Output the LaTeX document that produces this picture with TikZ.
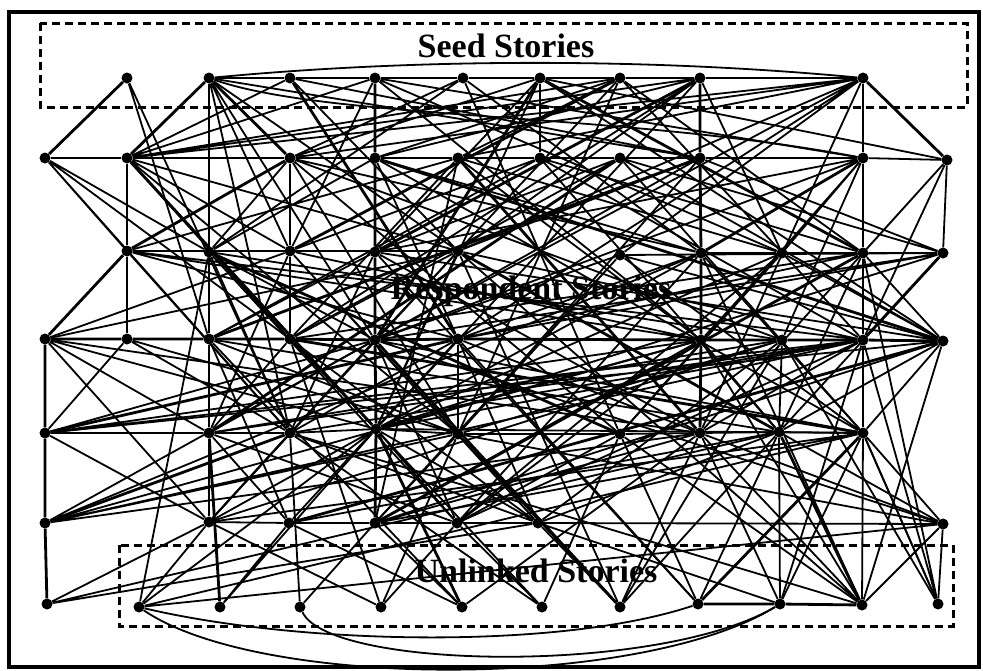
\documentclass[tikz,border=0pt]{standalone}
\usepackage{fontspec}
\setmainfont{Liberation Serif}
\usepackage{tikz}

\tikzset{
  story/.style={circle,fill=black,inner sep=0pt,minimum size=11pt},
  link/.style={line width=1.8pt},
  biglink/.style={line width=2.8pt},
  storybox/.style={dash pattern=on 8pt off 5pt,line width=3pt},
  boxlabel/.style={font=\fontsize{34}{36}\selectfont\bfseries,inner sep=0pt}
}

\begin{document}
\begin{tikzpicture}[x=1pt,y=1pt,yscale=-1,xscale=1]
\useasboundingbox (0,0) rectangle (983,670);
\draw [line width=3.2pt] (9,12) rectangle (979,667) ;
%Boxes
\draw [storybox] (40,23) rectangle (967,107) ;
\draw [storybox] (119,545) rectangle (953,626) ;
%Text
\node [boxlabel] (seedtxt) at (506,46) {Seed Stories};
\node [boxlabel] (resptxt) at (531,291) {Respondent Stories};
\node [boxlabel] (unltxt) at (536,571) {Unlinked Stories};
%Seed stories
\node [story] (a1) at (127,78) {};
\node [story] (a2) at (209,78) {};
\node [story] (a3) at (290,78) {};
\node [story] (a4) at (375,78) {};
\node [story] (a5) at (463,78) {};
\node [story] (a6) at (540,78) {};
\node [story] (a7) at (620,78) {};
\node [story] (a8) at (700,78) {};
\node [story] (a10) at (863,78) {};
%Respondent stories
\node [story] (b0) at (45,158) {};
\node [story] (b1) at (127,158) {};
\node [story] (b3) at (290,158) {};
\node [story] (b4) at (375,158) {};
\node [story] (b5) at (458,158) {};
\node [story] (b6) at (540,158) {};
\node [story] (b7) at (620,158) {};
\node [story] (b8) at (700,158) {};
\node [story] (b10) at (863,158) {};
\node [story] (b11) at (947,160) {};
\node [story] (c1) at (127,251) {};
\node [story] (c2) at (209,252) {};
\node [story] (c3) at (290,251) {};
\node [story] (c4) at (375,252) {};
\node [story] (c5) at (458,251) {};
\node [story] (c7) at (620,255) {};
\node [story] (c8) at (701,253) {};
\node [story] (c9) at (782,253) {};
\node [story] (c10) at (863,253) {};
\node [story] (c11) at (943,253) {};
\node [story] (d0) at (45,339) {};
\node [story] (d1) at (127,339) {};
\node [story] (d2) at (209,339) {};
\node [story] (d3) at (290,339) {};
\node [story] (d4) at (375,340) {};
\node [story] (d5) at (458,339) {};
\node [story] (d8) at (701,340) {};
\node [story] (d9) at (782,340) {};
\node [story] (d10) at (863,340) {};
\node [story] (d11) at (943,341) {};
\node [story] (e0) at (45,433) {};
\node [story] (e2) at (209,433) {};
\node [story] (e3) at (290,433) {};
\node [story] (e4) at (376,429) {};
\node [story] (e5) at (458,434) {};
\node [story] (e7) at (620,434) {};
\node [story] (e8) at (700,433) {};
\node [story] (e9) at (779,432) {};
\node [story] (e10) at (863,433) {};
\node [story] (f0) at (45,523) {};
\node [story] (f2) at (209,522) {};
\node [story] (f3) at (289,523) {};
\node [story] (f4) at (375,523) {};
\node [story] (f5) at (457,523) {};
\node [story] (f6) at (538,523) {};
\node [story] (f11) at (943,524) {};
%Unlinked stories
\node [story] (g0) at (47,604) {};
\node [story] (g1) at (139,607) {};
\node [story] (g2) at (220,607) {};
\node [story] (g3) at (300,607) {};
\node [story] (g4) at (381,607) {};
\node [story] (g5) at (462,607) {};
\node [story] (g6) at (542,607) {};
\node [story] (g7) at (620,607) {};
\node [story] (g8) at (698,604) {};
\node [story] (g9) at (780,604) {};
\node [story] (g10) at (862,605) {};
\node [story] (g11) at (938,604) {};
%Rows and columns
\draw [link] (a2) -- (a3) -- (a4) -- (a5) -- (a6) -- (a7) -- (a8) -- (a10) ;
\draw [link] (b0) -- (b1) -- (b3) -- (b4) -- (b5) -- (b6) -- (b7) -- (b8) -- (b10) ;
\draw [link] (c8) -- (c9) -- (c10) -- (c11) ;
\draw [biglink] (d0) -- (d1) -- (d2) -- (d3) -- (d4) -- (d5) -- (d8) -- (d9) -- (d10) -- (d11) ;
\draw [link] (e0) -- (e2) -- (e3) -- (e4) -- (e5) -- (e7) -- (e8) -- (e9) -- (e10) ;
\draw [link] (f2) -- (f3) -- (f4) -- (f5) -- (f6) -- (f11) ;
\draw [biglink] (g8) -- (g9) -- (g10) ;
\draw [link] (a2) -- (c2) -- (d2) -- (e2) -- (f2) ;
\draw [link] (b1) -- (c1) -- (d1) ;
\draw [biglink] (d0) -- (e0) -- (f0) -- (g0) ;
\draw [link] (b3) -- (c3) -- (d3) ;
\draw [biglink] (a4) -- (b4) -- (c4) -- (d4) -- (e4) -- (f4) ;
\draw [link] (d5) -- (e5) ;
\draw [link] (a6) -- (b6) ;
\draw [biglink] (a8) -- (b8) -- (c8) -- (d8) -- (e8) ;
\draw [link] (d9) -- (e9) -- (g9) ;
\draw [biglink] (a10) -- (b10) -- (c10) -- (d10) -- (e10) ;
\draw [link] (f11) -- (g11) ;
%Curved links
\draw [link] (a2) .. controls (420,58) and (650,58) .. (a10) ;
\draw [link] (a2) .. controls (330,120) and (620,112) .. (b10) ;
\draw [link] (g1) .. controls (300,645) and (560,650) .. (g8) ;
\draw [link] (g1) .. controls (260,690) and (640,690) .. (g9) ;
\draw [link] (g3) .. controls (330,670) and (660,675) .. (g9) ;
%Strong links
\draw [biglink] (a1) -- (b0) (a2) -- (b1) (a2) -- (b3) (b3) -- (c1) (c1) -- (d0)
  (a10) -- (b11) (c11) -- (d10) (e10) -- (g8) (b1) -- (e4) (f0) -- (e3)
  (b10) -- (c8) (a6) -- (d4) (a7) -- (c3) (b4) -- (d11) (c2) -- (e7)
  (e4) -- (g5) (d4) -- (g7) (a8) -- (c4) (b5) -- (e8) (e0) -- (d5)
  (c5) -- (e9) (d3) -- (e10) (b7) -- (e2) (a3) -- (d5) (c10) -- (f4)
  (e9) -- (g10) (d11) -- (f3) (b8) -- (d2) (e2) -- (g2) (a6) -- (c10) ;
%Links
\draw [link] (a1) -- (d2) (a1) -- (e3)
  (a2) -- (c3) (a2) -- (d4) (a2) -- (e3) (a2) -- (b8) (a2) -- (c5)
  (a3) -- (b1) (a3) -- (c5) (a3) -- (b8)
  (a4) -- (b1) (a4) -- (c3) (a4) -- (d8) (a4) -- (b10) (a4) -- (c9)
  (a5) -- (b3) (a5) -- (c2) (a5) -- (c8) (a5) -- (e7)
  (a6) -- (b3) (a6) -- (c4) (a6) -- (d11) (a6) -- (e4) (a6) -- (b11)
  (a7) -- (b5) (a7) -- (d4) (a7) -- (c10) (a7) -- (d10) (a7) -- (e5) (a7) -- (b1)
  (a8) -- (b4) (a8) -- (d3) (a8) -- (b1) (a8) -- (c5) (a8) -- (e4) (a8) -- (c9)
  (a10) -- (b3) (a10) -- (b1) (a10) -- (c7) (a10) -- (c5) (a10) -- (d5) (a10) -- (b5) (a10) -- (e8) (a10) -- (d4) ;
\draw [link] (b0) -- (c1) (b0) -- (c2) (b0) -- (d3) (b0) -- (e3)
  (b1) -- (c3) (b1) -- (d3) (b1) -- (c5) (b1) -- (e5)
  (b3) -- (c2) (b3) -- (e7) (b3) -- (d9) (b3) -- (c8) (b3) -- (e5)
  (b4) -- (c2) (b4) -- (d5) (b4) -- (c8) (b4) -- (e10) (b4) -- (a7)
  (b5) -- (c1) (b5) -- (d3) (b5) -- (c9) (b5) -- (d8) (b5) -- (f4)
  (b6) -- (c3) (b6) -- (d2) (b6) -- (c10) (b6) -- (e9) (b6) -- (d10)
  (b7) -- (c4) (b7) -- (d3) (b7) -- (c11) (b7) -- (d11) (b7) -- (e10)
  (b8) -- (c5) (b8) -- (d4) (b8) -- (e5) (b8) -- (c11)
  (b10) -- (c9) (b10) -- (d9) (b10) -- (e7) (b10) -- (c4) (b10) -- (d4) (b10) -- (b11)
  (b11) -- (c10) (b11) -- (d10) (b11) -- (c11) (b11) -- (e8) ;
\draw [link] (c1) -- (e3) (c1) -- (d5) (c1) -- (c5) (c1) -- (d8) (c1) -- (d10)
  (c2) -- (e3) (c2) -- (d4) (c2) -- (f5) (c2) -- (d9)
  (c3) -- (e2) (c3) -- (e5) (c3) -- (d8) (c3) -- (f6) (c3) -- (d0)
  (c4) -- (d2) (c4) -- (e3) (c4) -- (e8) (c4) -- (d11) (c4) -- (g8)
  (c5) -- (d3) (c5) -- (e4) (c5) -- (d10) (c5) -- (f2) (c5) -- (g7)
  (c7) -- (d4) (c7) -- (e5) (c7) -- (f4) (c7) -- (d11) (c7) -- (e10)
  (c8) -- (d5) (c8) -- (e4) (c8) -- (e10) (c8) -- (g10) (c8) -- (f5)
  (c9) -- (d8) (c9) -- (d11) (c9) -- (e7) (c9) -- (f5) (c9) -- (e4)
  (c10) -- (d11) (c10) -- (e9) (c10) -- (d5) (c10) -- (d3)
  (c11) -- (e9) (c11) -- (d4) (c11) -- (c7) (c11) -- (d5) (c11) -- (e4) ;
\draw [link] (d0) -- (e2) (d0) -- (e4) (d0) -- (f2) (d0) -- (e8) (d0) -- (c5)
  (d1) -- (e0) (d1) -- (e3) (d1) -- (e5)
  (d2) -- (f3) (d2) -- (e5) (d2) -- (g5) (d2) -- (e9)
  (d3) -- (e2) (d3) -- (e4) (d3) -- (g4) (d3) -- (f6)
  (d4) -- (e2) (d4) -- (f2) (d4) -- (f5) (d4) -- (e10) (d4) -- (f11)
  (d5) -- (e3) (d5) -- (f3) (d5) -- (e8) (d5) -- (g8) (d5) -- (f6)
  (d8) -- (e4) (d8) -- (f4) (d8) -- (e9) (d8) -- (g10) (d8) -- (f5)
  (d9) -- (e5) (d9) -- (f6) (d9) -- (g11) (d9) -- (f2)
  (d10) -- (e8) (d10) -- (e4) (d10) -- (f5) (d10) -- (g9) (d10) -- (e2)
  (d11) -- (e9) (d11) -- (e0) (d11) -- (e10) (d11) -- (f4) (d11) -- (g10) ;
\draw [link] (e0) -- (f2) (e0) -- (d4) (e0) -- (d8) (e0) -- (d10)
  (f0) -- (d4) (f0) -- (d8) (f0) -- (d10) (f0) -- (e5) (f0) -- (c8) (f0) -- (e8)
  (e2) -- (f3) (e2) -- (f5) (e2) -- (d9)
  (e3) -- (f2) (e3) -- (g3) (e3) -- (f6) (e3) -- (d10)
  (e4) -- (f2) (e4) -- (f5) (e4) -- (g6) (e4) -- (f6) (e4) -- (g1) (e4) -- (e10)
  (e5) -- (f4) (e5) -- (g7) (e5) -- (f11)
  (e7) -- (f5) (e7) -- (g6) (e7) -- (g8) (e7) -- (g10)
  (e8) -- (f4) (e8) -- (g7) (e8) -- (g9) (e8) -- (f11)
  (e9) -- (g8) (e9) -- (f6) (e9) -- (f3) (e9) -- (f11)
  (e10) -- (g9) (e10) -- (g10) (e10) -- (f4) (e10) -- (f2) (e10) -- (f11) (e10) -- (g11) ;
\draw [link] (f2) -- (g0) (f2) -- (g1) (f2) -- (g4)
  (f3) -- (g2) (f3) -- (g5)
  (f4) -- (g3) (f4) -- (g5)
  (f5) -- (g4) (f5) -- (g6)
  (f6) -- (g7) (f6) -- (g9) (f6) -- (g0)
  (f11) -- (g10) (f11) -- (g1)
  (g0) -- (e9) (g1) -- (c2) (g1) -- (e10)
  (g2) -- (e4) (g4) -- (e5) (g5) -- (e8)
  (g6) -- (e3) (g7) -- (d9) (g7) -- (e9)
  (g10) -- (e3) (g10) -- (c5) (g10) -- (e8)
  (g11) -- (e10) (g11) -- (d10) (g11) -- (c10) ;
\end{tikzpicture}
\end{document}
